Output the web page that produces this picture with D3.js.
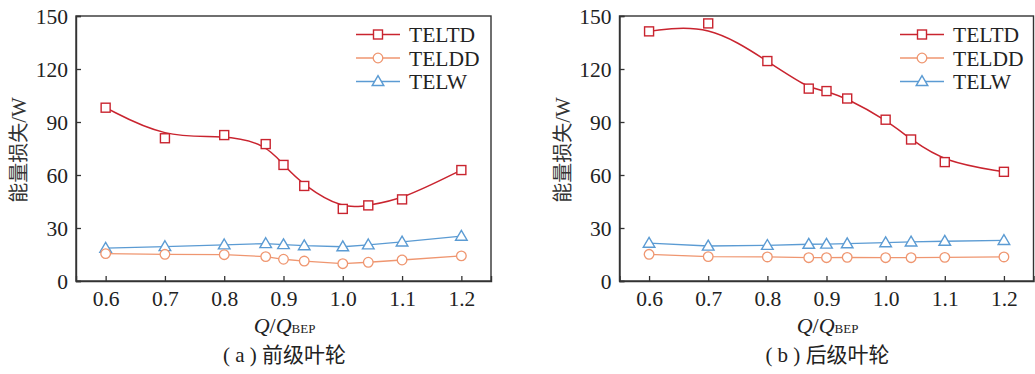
<!DOCTYPE html>
<html><head><meta charset="utf-8">
<script src="https://cdn.jsdelivr.net/npm/d3@7"></script>
<style>body{margin:0;background:#fff}svg{display:block}</style>
</head><body>
<svg id="c" width="1035" height="374"></svg>
<script>
const flowRatio = [0.6, 0.7, 0.8, 0.87, 0.9, 0.935, 1.0, 1.043, 1.1, 1.2];
const xTicks = [0.6, 0.7, 0.8, 0.9, 1.0, 1.1, 1.2];
const yTicks = [0, 30, 60, 90, 120, 150];
const seriesNames = ["TELTD", "TELDD", "TELW"];
// (a) front impeller
const frontTELTD = [98.1, 80.8, 82.6, 77.5, 65.7, 53.8, 40.8, 42.8, 46.2, 62.8];
const frontTELDD = [15.5, 15.1, 14.9, 13.8, 12.3, 11.3, 9.8, 10.6, 11.9, 14.2];
const frontTELW  = [18.6, 19.5, 20.5, 21.2, 20.6, 20.0, 19.4, 20.5, 22.1, 25.4];
// (b) rear impeller
const rearTELTD = [141.3, 145.8, 124.5, 108.9, 107.5, 103.3, 91.3, 80.1, 67.3, 61.8];
const rearTELDD = [15.1, 13.8, 13.6, 13.2, 13.2, 13.4, 13.2, 13.2, 13.4, 13.6];
const rearTELW  = [21.4, 19.8, 20.2, 20.8, 20.9, 21.1, 21.7, 22.1, 22.5, 23.0];

const colors = {TELTD: "#c9242f", TELDD: "#ef9670", TELW: "#5b9bd3"};
const svg = d3.select("#c");
const serif = "'Liberation Serif','DejaVu Serif',serif";
const cjk = "'Noto Sans CJK SC','Noto Sans CJK JP',sans-serif";

function marker(g, type, x, y, color) {
  if (type === "TELTD") {
    g.append("rect").attr("x", x - 4.5).attr("y", y - 4.5).attr("width", 9).attr("height", 9)
      .attr("fill", "#fff").attr("stroke", color).attr("stroke-width", 1.4);
  } else if (type === "TELDD") {
    g.append("circle").attr("cx", x).attr("cy", y).attr("r", 4.8)
      .attr("fill", "#fff").attr("stroke", color).attr("stroke-width", 1.3);
  } else {
    const s = 5.8;
    g.append("path").attr("d", `M${x},${y - s}L${x + s},${y + s * 0.7}L${x - s},${y + s * 0.7}Z`)
      .attr("fill", "#fff").attr("stroke", color).attr("stroke-width", 1.4);
  }
}

function panel(opt) {
  const g = svg.append("g");
  const x = d3.scaleLinear().domain([0.55, 1.25]).range([opt.left, opt.right]);
  const y = d3.scaleLinear().domain([0, 150]).range([281, 16]);
  const data = {TELTD: opt.teltd, TELDD: opt.teldd, TELW: opt.telw};

  g.append("rect").attr("x", opt.left).attr("y", 16).attr("width", opt.right - opt.left).attr("height", 265)
    .attr("fill", "none").attr("stroke", "#333").attr("stroke-width", 1.4);

  const ax = g.append("g").attr("transform", "translate(0,281)")
    .call(d3.axisBottom(x).tickValues(xTicks).tickSize(-5).tickPadding(9).tickFormat(d3.format(".1f")));
  const ay = g.append("g").attr("transform", `translate(${opt.left},0)`)
    .call(d3.axisLeft(y).tickValues(yTicks).tickSize(-5).tickPadding(8));
  [ax, ay].forEach(a => {
    a.attr("font-family", null).attr("font-size", null);
    a.select(".domain").attr("stroke", "#333").attr("stroke-width", 1.4);
    a.selectAll(".tick line").attr("stroke", "#333").attr("stroke-width", 1.3);
    a.selectAll(".tick text").attr("fill", "#222").style("font-family", serif).style("font-size", "21.5px");
  });
  ax.selectAll(".tick text").attr("dy", "0.75em");
  ay.selectAll(".tick text").attr("dy", "0.34em");

  const curves = {TELTD: d3.curveBasis, TELDD: d3.curveLinear, TELW: d3.curveLinear};
  ["TELW", "TELDD", "TELTD"].forEach(name => {
    const line = d3.line().x((d, i) => x(flowRatio[i])).y(d => y(d)).curve(curves[name]);
    g.append("path").attr("d", line(data[name])).attr("fill", "none")
      .attr("stroke", colors[name]).attr("stroke-width", name === "TELTD" ? 1.5 : 1.3);
  });
  ["TELW", "TELDD", "TELTD"].forEach(name => {
    data[name].forEach((v, i) => marker(g, name, x(flowRatio[i]), y(v), colors[name]));
  });

  seriesNames.forEach((name, i) => {
    const ly = 34.5 + i * 23.5;
    g.append("line").attr("x1", opt.legX).attr("x2", opt.legX + 44).attr("y1", ly).attr("y2", ly)
      .attr("stroke", colors[name]).attr("stroke-width", 1.4);
    marker(g, name, opt.legX + 22, ly, colors[name]);
    g.append("text").attr("x", opt.legX + 53).attr("y", ly + 7.5).text(name)
      .style("font-family", serif).style("font-size", "21.5px").attr("fill", "#222");
  });

  g.append("text").attr("transform", `translate(${opt.left - 50},150) rotate(-90)`)
    .attr("text-anchor", "middle").attr("fill", "#333")
    .style("font-size", "20px")
    .call(t => {
      t.append("tspan").style("font-family", cjk).text("能量损失");
      t.append("tspan").style("font-family", serif).style("font-size", "21px").text("/W");
    });

  const cx = (opt.left + opt.right) / 2;
  const xl = g.append("text").attr("x", cx + 1).attr("y", 333).attr("text-anchor", "middle")
    .style("font-family", serif).style("font-size", "22px").attr("fill", "#222");
  xl.append("tspan").style("font-style", "italic").text("Q");
  xl.append("tspan").text("/");
  xl.append("tspan").style("font-style", "italic").text("Q");
  xl.append("tspan").style("font-size", "13px").text("BEP");

  const cap = g.append("text").attr("x", cx + 1).attr("y", 362).attr("text-anchor", "middle")
    .style("font-size", "21px").attr("fill", "#222");
  cap.append("tspan").style("font-family", serif).text(opt.capLetter + " ");
  cap.append("tspan").style("font-family", cjk).text(opt.capText);
}

panel({left: 76, right: 491, teltd: frontTELTD, teldd: frontTELDD, telw: frontTELW,
       legX: 356, capLetter: "( a )", capText: "前级叶轮"});
panel({left: 619.5, right: 1033.5, teltd: rearTELTD, teldd: rearTELDD, telw: rearTELW,
       legX: 900, capLetter: "( b )", capText: "后级叶轮"});
</script>
</body></html>
